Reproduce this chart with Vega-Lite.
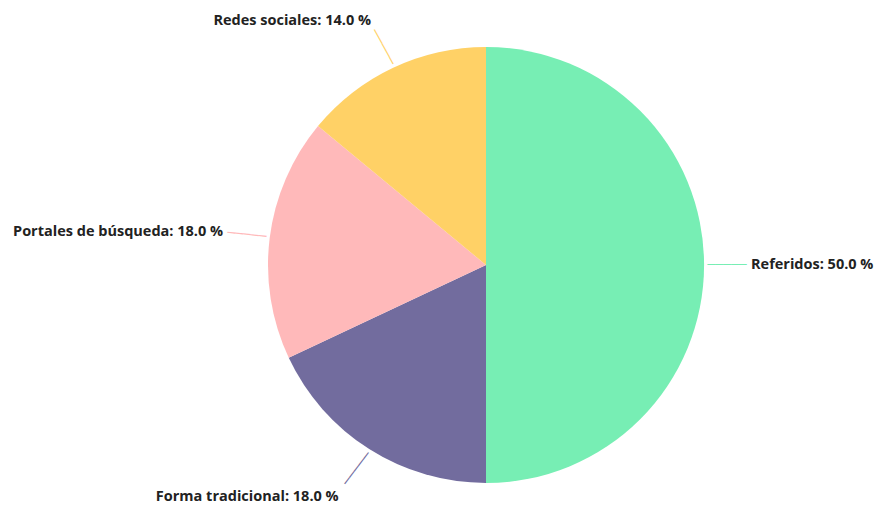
{
  "$schema": "https://vega.github.io/schema/vega-lite/v6.json",
  "width": 788,
  "height": 490,
  "autosize": "none",
  "padding": {"left": 92, "top": 20, "right": 0, "bottom": 0},
  "background": "white",
  "data": {
    "values": [
      {"category": "Referidos", "value": 50, "order": 1, "label": "Referidos: 50.0 %"},
      {"category": "Forma tradicional", "value": 18, "order": 2, "label": "Forma tradicional: 18.0 %"},
      {"category": "Portales de búsqueda", "value": 18, "order": 3, "label": "Portales de búsqueda: 18.0 %"},
      {"category": "Redes sociales", "value": 14, "order": 4, "label": "Redes sociales: 14.0 %"}
    ]
  },
  "encoding": {
    "theta": {"field": "value", "type": "quantitative", "stack": true},
    "order": {"field": "order", "type": "quantitative"},
    "color": {
      "field": "category",
      "type": "nominal",
      "legend": null,
      "scale": {
        "domain": ["Referidos", "Forma tradicional", "Portales de búsqueda", "Redes sociales"],
        "range": ["#77EEB4", "#726C9E", "#FFB9BA", "#FFD166"]
      }
    }
  },
  "layer": [
    {"mark": {"type": "arc", "outerRadius": 218}},
    {
      "mark": {"type": "text", "radius": 241, "align": "center", "baseline": "middle", "font": "DejaVu Sans Mono", "fontSize": 13},
      "encoding": {
        "text": {"value": "─────"},
        "angle": {"field": "order", "type": "quantitative", "legend": null, "scale": {"type": "linear", "domain": [1, 2, 3, 4], "range": [0, -53, 6, 61]}}
      }
    },
    {
      "mark": {"type": "text", "radius": 265, "align": "left", "baseline": "middle", "font": "Open Sans", "fontSize": 14.5, "fontWeight": "bold"},
      "encoding": {
        "text": {"condition": {"test": "datum.category === 'Referidos'", "field": "label"}, "value": ""},
        "color": {"value": "#222222"}
      }
    },
    {
      "mark": {"type": "text", "radius": 275, "align": "right", "baseline": "middle", "font": "Open Sans", "fontSize": 14.5, "fontWeight": "bold"},
      "encoding": {
        "text": {"condition": {"test": "datum.category === 'Forma tradicional'", "field": "label"}, "value": ""},
        "color": {"value": "#222222"}
      }
    },
    {
      "mark": {"type": "text", "radius": 265, "align": "right", "baseline": "middle", "font": "Open Sans", "fontSize": 14.5, "fontWeight": "bold"},
      "encoding": {
        "text": {"condition": {"test": "datum.category === 'Portales de búsqueda'", "field": "label"}, "value": ""},
        "color": {"value": "#222222"}
      }
    },
    {
      "mark": {"type": "text", "radius": 270, "align": "right", "baseline": "middle", "font": "Open Sans", "fontSize": 14.5, "fontWeight": "bold"},
      "encoding": {
        "text": {"condition": {"test": "datum.category === 'Redes sociales'", "field": "label"}, "value": ""},
        "color": {"value": "#222222"}
      }
    }
  ]
}
